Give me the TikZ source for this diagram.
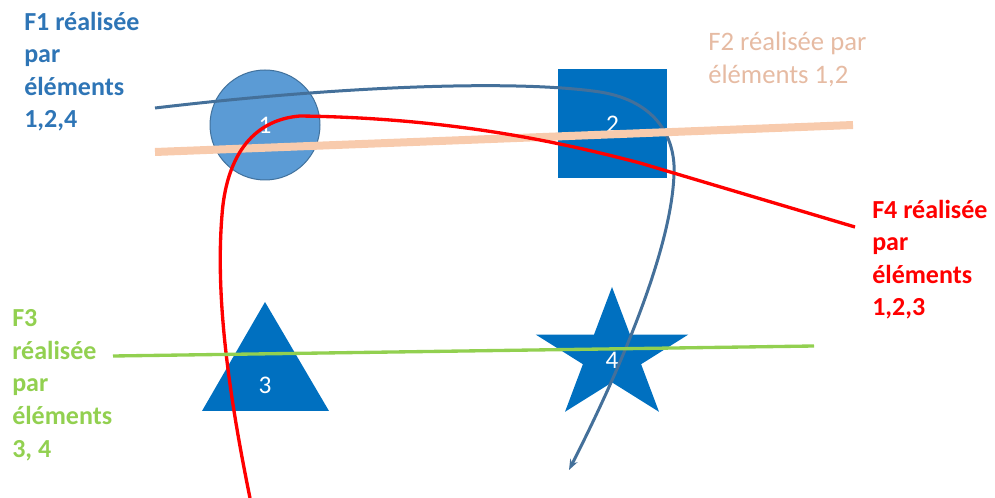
\documentclass[tikz,border=0pt]{standalone}
\usepackage{fontspec}
\setmainfont{Carlito}
\usetikzlibrary{arrows.meta}
\definecolor{shapeblue}{HTML}{0070C0}
\definecolor{circblue}{HTML}{5B9BD5}
\definecolor{circedge}{HTML}{41719C}
\definecolor{fonecol}{HTML}{2E75B6}
\definecolor{curveblue}{HTML}{44709A}
\definecolor{peach}{HTML}{F8CBAD}
\definecolor{peachtext}{HTML}{E6BBA3}
\definecolor{greenline}{HTML}{92D050}
\definecolor{redline}{HTML}{FF0000}
\tikzset{
  shapelabel/.style={text=white,font=\fontsize{19}{22}\selectfont,inner sep=0pt},
  bigtext/.style={anchor=north west,align=left,inner sep=0pt,font=\bfseries\fontsize{19.5}{24.3}\selectfont},
}
\begin{document}
\begin{tikzpicture}[x=0.75pt,y=-0.75pt]
\useasboundingbox (0,0) rectangle (995,498);
% shapes
\node[circle,fill=circblue,draw=circedge,line width=0.75pt,minimum size=82.5pt,inner sep=0pt,
  text=white,font=\fontsize{19}{22}\selectfont] (c1) at (265,125) {1};
\node[rectangle,fill=shapeblue,minimum size=81.75pt,inner sep=0pt,
  text=white,font=\fontsize{19}{22}\selectfont] (s2) at (612.5,124) {2};
\fill[shapeblue] (265,302) -- (329,411) -- (202,411) -- cycle;
\node[shapelabel] (t3) at (265,385) {3};
\fill[shapeblue] (612,287) -- (630,334.6) -- (688.1,334.7) -- (641.1,364.2) -- (659,411.8)
  -- (612,382.4) -- (565,411.8) -- (582.9,364.2) -- (535.9,334.7) -- (594,334.6) -- cycle;
\node[shapelabel] (st4) at (612,360) {4};
% coordinates
\coordinate (b0) at (155,108);
\coordinate (b1) at (600,92);
\coordinate (b2) at (674,165);
\coordinate (b3) at (569,470);
\coordinate (p0) at (155,152);
\coordinate (p1) at (853,125);
\coordinate (r0) at (250,498);
\coordinate (r1) at (222,215);
\coordinate (r2) at (300,116);
\coordinate (r3) at (640,163);
\coordinate (r4) at (855,227);
\coordinate (g0) at (113,356);
\coordinate (g1) at (814,346);
% F1 curve
\draw[curveblue,line width=2.25pt,-{Stealth[length=8pt,width=6pt]}]
  (b0) .. controls (350,85) and (520,80) .. (b1)
  .. controls (650,100) and (672,130) .. (b2)
  .. controls (676,240) and (620,370) .. (b3);
% F2 line
\draw[peach,line width=6pt] (p0) -- (p1);
% F4 curve
\draw[redline,line width=2.5pt]
  (r0) .. controls (230,400) and (215,300) .. (r1)
  .. controls (226,160) and (250,120) .. (r2)
  .. controls (450,118) and (560,142) .. (r3) -- (r4);
% F3 line
\draw[greenline,line width=2.5pt] (g0) -- (g1);
% texts
\node[bigtext,text=fonecol] (f1) at (24,12) {F1 réalisée\\par\\éléments\\1,2,4};
\node[anchor=north west,align=left,inner sep=0pt,text=peachtext,font=\fontsize{20}{24.75}\selectfont] (f2) at (708,32) {F2 réalisée par\\éléments 1,2};
\node[bigtext,text=redline] (f4) at (872,200) {F4 réalisée\\par\\éléments\\1,2,3};
\node[bigtext,text=greenline,font=\bfseries\fontsize{19.5}{24.6}\selectfont] (f3) at (12,309) {F3\\réalisée\\par\\éléments\\3, 4};
\end{tikzpicture}
\end{document}
